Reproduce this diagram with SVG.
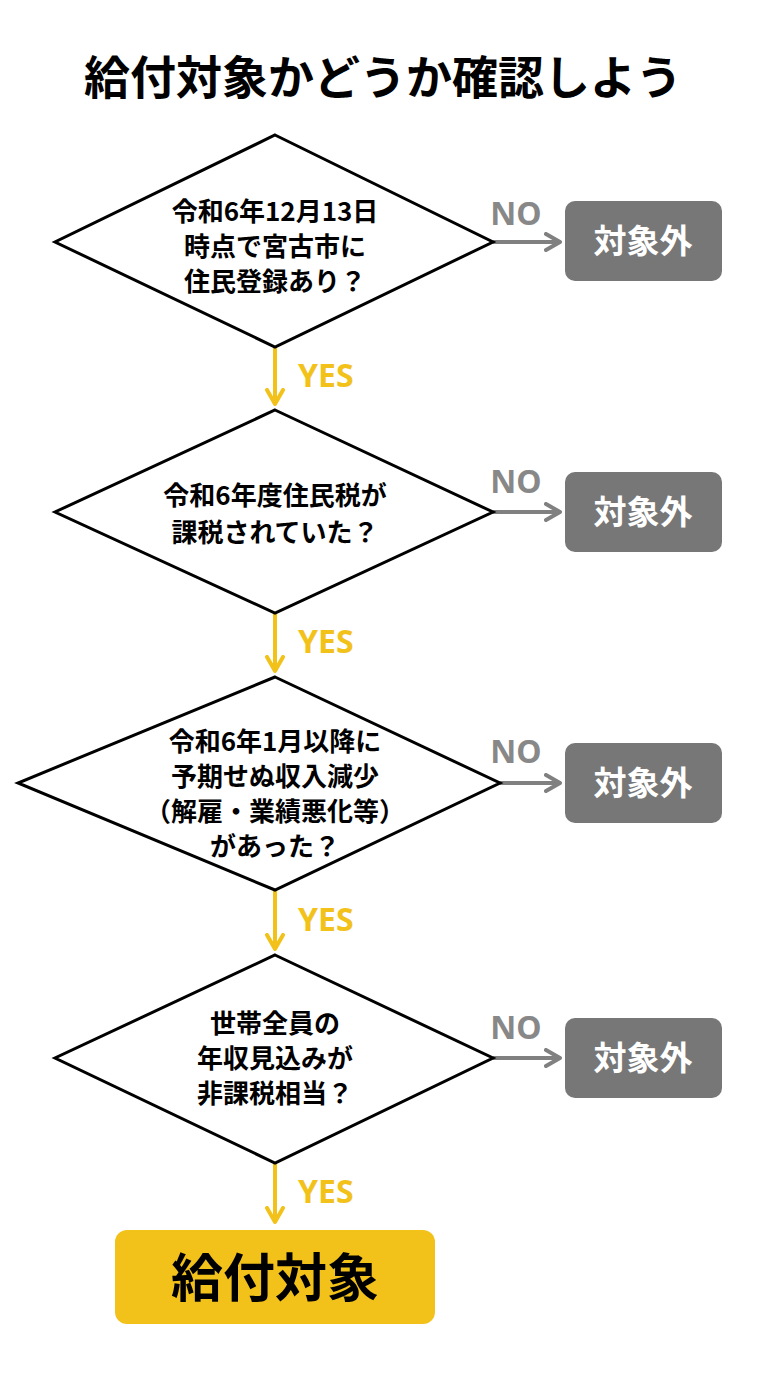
<svg xmlns="http://www.w3.org/2000/svg" width="768" height="1376" viewBox="0 0 768 1376">
<defs>
<marker id="ay" viewBox="0 0 20 20" refX="16" refY="10" markerWidth="20" markerHeight="20" markerUnits="userSpaceOnUse" orient="auto"><path d="M2,2 L16,10 L2,18" fill="none" stroke="#F2C21B" stroke-width="4" stroke-linecap="round" stroke-linejoin="round"/></marker>
<marker id="ag" viewBox="0 0 20 20" refX="16" refY="10" markerWidth="20" markerHeight="20" markerUnits="userSpaceOnUse" orient="auto"><path d="M2,2 L16,10 L2,18" fill="none" stroke="#808080" stroke-width="4" stroke-linecap="round" stroke-linejoin="round"/></marker>
</defs>
<style>
text{font-family:"Noto Sans CJK JP","Noto Sans",sans-serif;font-weight:bold;text-anchor:middle}
.d{fill:#fff;stroke:#000;stroke-width:3}
.q{font-size:26px;fill:#000}
.g{fill:#777}
.gt{font-size:33px;fill:#fff}
.y{stroke:#F2C21B;stroke-width:4;fill:none}
.n{stroke:#808080;stroke-width:4;fill:none}
.yl{font-size:32px;fill:#F2C21B;font-family:"Noto Sans",sans-serif;text-anchor:start}
.nl{font-size:32px;fill:#888;font-family:"Noto Sans",sans-serif}
</style>
<rect width="768" height="1376" fill="#fff"/>
<text x="383" y="94" font-size="46" fill="#000">給付対象かどうか確認しよう</text>
<g id="connectors">
<line class="y" x1="275" y1="347" x2="275" y2="404" marker-end="url(#ay)"/>
<line class="y" x1="275" y1="613" x2="275" y2="671" marker-end="url(#ay)"/>
<line class="y" x1="275" y1="890" x2="275" y2="949" marker-end="url(#ay)"/>
<line class="y" x1="275" y1="1163" x2="275" y2="1222" marker-end="url(#ay)"/>
<line class="n" x1="493" y1="242" x2="560" y2="242" marker-end="url(#ag)"/>
<line class="n" x1="493" y1="512" x2="560" y2="512" marker-end="url(#ag)"/>
<line class="n" x1="500" y1="783" x2="560" y2="783" marker-end="url(#ag)"/>
<line class="n" x1="493" y1="1058" x2="560" y2="1058" marker-end="url(#ag)"/>
<text class="yl" x="298" y="387">YES</text>
<text class="yl" x="298" y="653">YES</text>
<text class="yl" x="298" y="931">YES</text>
<text class="yl" x="298" y="1203">YES</text>
<text class="nl" x="516" y="225">NO</text>
<text class="nl" x="516" y="493">NO</text>
<text class="nl" x="516" y="763">NO</text>
<text class="nl" x="516" y="1039">NO</text>
</g>
<g id="q1"><polygon class="d" points="275,135 493,242 275,347 55,242"/>
<text class="q" x="275" y="221">令和6年12月13日</text><text class="q" x="275" y="256">時点で宮古市に</text><text class="q" x="275" y="291">住民登録あり？</text></g>
<g id="q2"><polygon class="d" points="275,410 493,512 275,613 55,512"/>
<text class="q" x="275" y="505">令和6年度住民税が</text><text class="q" x="275" y="542">課税されていた？</text></g>
<g id="q3"><polygon class="d" points="275,677 500,783 275,890 18,783"/>
<text class="q" x="275" y="751">令和6年1月以降に</text><text class="q" x="275" y="786">予期せぬ収入減少</text><text class="q" x="275" y="821">（解雇・業績悪化等）</text><text class="q" x="275" y="856">があった？</text></g>
<g id="q4"><polygon class="d" points="275,955 493,1058 275,1163 55,1058"/>
<text class="q" x="275" y="1033">世帯全員の</text><text class="q" x="275" y="1068">年収見込みが</text><text class="q" x="275" y="1103">非課税相当？</text></g>
<g id="o1"><rect class="g" x="565" y="201" width="157" height="80" rx="10"/><text class="gt" x="643" y="253">対象外</text></g>
<g id="o2"><rect class="g" x="565" y="472" width="157" height="80" rx="10"/><text class="gt" x="643" y="524">対象外</text></g>
<g id="o3"><rect class="g" x="565" y="743" width="157" height="80" rx="10"/><text class="gt" x="643" y="795">対象外</text></g>
<g id="o4"><rect class="g" x="565" y="1018" width="157" height="80" rx="10"/><text class="gt" x="643" y="1070">対象外</text></g>
<g id="ok"><rect x="115" y="1230" width="320" height="94" rx="12" fill="#F2C21B"/><text x="275" y="1297" font-size="52" fill="#000">給付対象</text></g>
</svg>
